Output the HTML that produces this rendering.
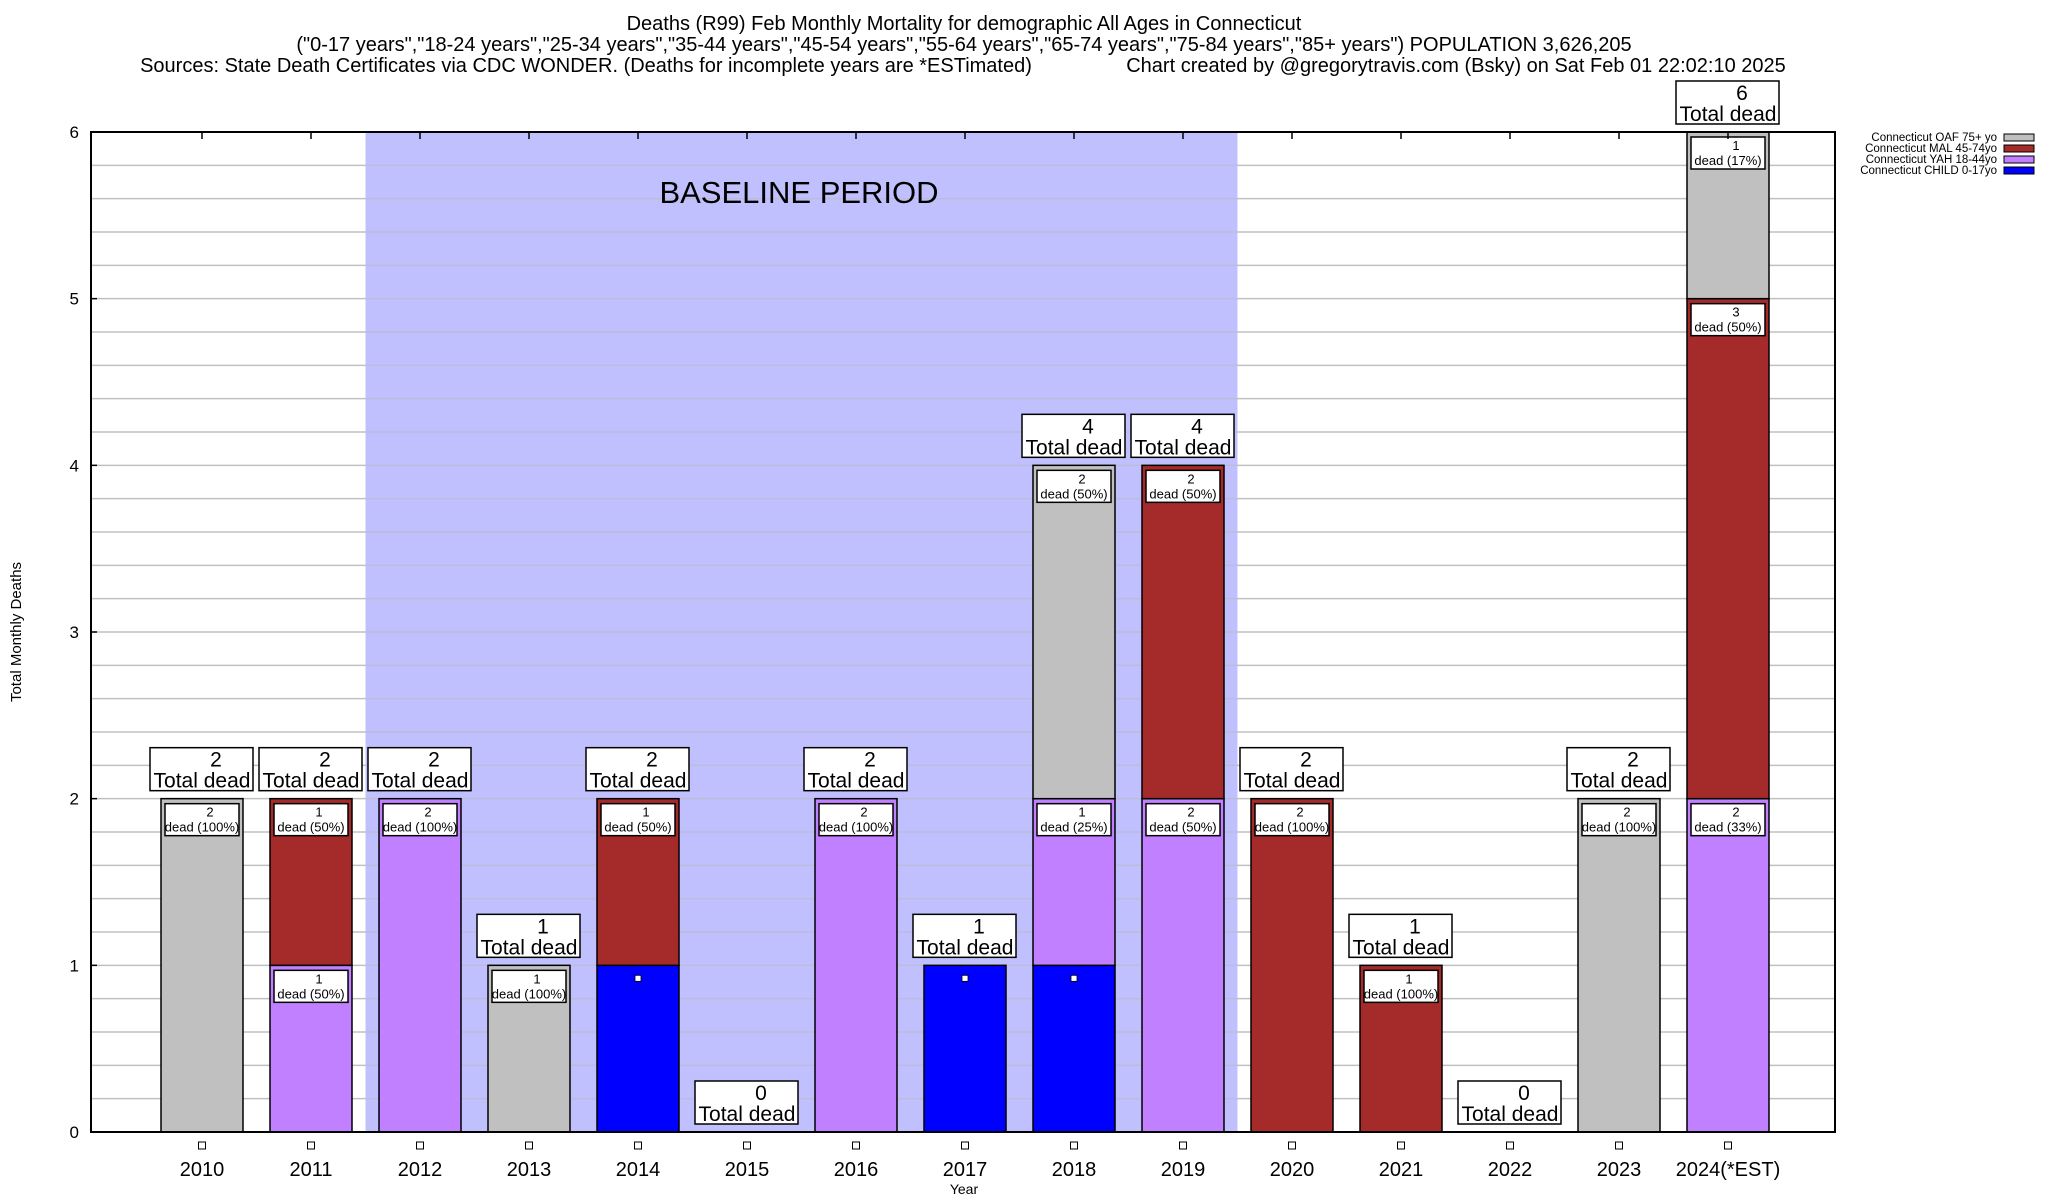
<!DOCTYPE html>
<html><head><meta charset="utf-8"><style>
body{margin:0;background:#fff}
svg{display:block;font-family:"Liberation Sans",Arial,sans-serif}
</style></head><body>
<svg id="chart" width="2048" height="1200" viewBox="0 0 2048 1200">
<g text-anchor="middle" font-size="20">
<text x="964" y="30">Deaths (R99) Feb Monthly Mortality for demographic All Ages in Connecticut</text>
<text x="964" y="51">("0-17 years","18-24 years","25-34 years","35-44 years","45-54 years","55-64 years","65-74 years","75-84 years","85+ years") POPULATION 3,626,205</text>
<text x="586" y="72">Sources: State Death Certificates via CDC WONDER. (Deaths for incomplete years are *ESTimated)</text>
<text x="1456" y="72">Chart created by @gregorytravis.com (Bsky) on Sat Feb 01 22:02:10 2025</text>
</g>
<rect x="91" y="132" width="1744" height="1000" fill="#fff"/>
<g id="grid"></g>
<rect id="baseline" fill="#c0c0ff"/>
<g id="grid2"></g>
<text x="799" y="203" font-size="31" text-anchor="middle">BASELINE PERIOD</text>
<g id="bars"></g>
<g id="axes"></g>
<text x="964" y="1194" font-size="14" text-anchor="middle">Year</text>
<text transform="translate(21,632) rotate(-90)" font-size="15" text-anchor="middle">Total Monthly Deaths</text>
<g id="legend" font-size="11.5" text-anchor="end"></g>
</svg>
<script>
const years=["2010","2011","2012","2013","2014","2015","2016","2017","2018","2019","2020","2021","2022","2023","2024(*EST)"];
const child=[0,0,0,0,1,0,0,1,1,0,0,0,0,0,0];
const yah=[0,1,2,0,0,0,2,0,1,2,0,0,0,0,2];
const mal=[0,1,0,0,1,0,0,0,0,2,2,1,0,0,3];
const oaf=[2,0,0,1,0,0,0,0,2,0,0,0,0,2,1];
const yTicks=[0,1,2,3,4,5,6];
const seriesNames=["Connecticut OAF 75+ yo","Connecticut MAL 45-74yo","Connecticut YAH 18-44yo","Connecticut CHILD 0-17yo"];
const colors={child:"#0000ff",yah:"#c080ff",mal:"#a52a2a",oaf:"#c0c0c0"};
const L=91,R=1835,T=132,B=1132,yMax=6;
const NS="http://www.w3.org/2000/svg";
const step=(R-L)/(years.length+1);
function xc(i){return L+step*(i+1)+2;}
function y(v){return B-(v/yMax)*(B-T);}
function mk(tag,attrs,parent,txt){const e=document.createElementNS(NS,tag);for(const k in attrs)e.setAttribute(k,attrs[k]);if(txt!==undefined)e.textContent=txt;parent.appendChild(e);return e;}
const grid=document.getElementById('grid'),grid2=document.getElementById('grid2');
for(let v=0;v<=yMax+1e-9;v+=0.2){
  const l=mk('line',{x1:L,x2:R,y1:y(v),y2:y(v),stroke:'#c0c0c0','stroke-width':1.5},grid);
  
  
}
const bl=document.getElementById('baseline');
bl.setAttribute('x',xc(1)+step/2);bl.setAttribute('y',T);bl.setAttribute('width',step*8);bl.setAttribute('height',B-T);
for(let v=0;v<=yMax+1e-9;v+=0.2){
  const l=mk('line',{x1:xc(1)+step/2,x2:xc(9)+step/2,y1:y(v),y2:y(v),stroke:'#b8b8b0','stroke-width':1.2,opacity:0.6},grid2);
  
  
}
const bars=document.getElementById('bars');
const bw=82;
years.forEach((yr,i)=>{
  const total=child[i]+yah[i]+mal[i]+oaf[i];
  const segs=[["child",child[i]],["yah",yah[i]],["mal",mal[i]],["oaf",oaf[i]]];
  let base=0;
  const g=mk('g',{},bars);
  
  
  segs.forEach(([k,v])=>{
    if(!v)return;
    const r=mk('rect',{x:xc(i)-bw/2,y:y(base+v),width:bw,height:y(base)-y(base+v),fill:colors[k],stroke:'#000','stroke-width':1.5},g);
    
    
    const top=y(base+v);
    if(k==='child'){
      const d=mk('rect',{x:xc(i)-3,y:top+10,width:6,height:6,fill:'#fff',stroke:'#000','stroke-width':0.8},g);
      
      
    }else{
      const lg=mk('g',{},g);
      
      
      mk('rect',{x:xc(i)-37,y:top+5,width:74,height:32,fill:'#fff',stroke:'#000','stroke-width':1.5},lg);
      mk('text',{x:xc(i)+8,y:top+18,'font-size':13,'text-anchor':'middle'},lg,String(v));
      mk('text',{x:xc(i),y:top+33,'font-size':13,'text-anchor':'middle'},lg,'dead ('+Math.round(v/total*100)+'%)');
    }
    base+=v;
  });
  const tb=mk('g',{},bars);
  
  
  const ty=y(total)-8;
  mk('rect',{x:xc(i)-52,y:ty-43,width:103,height:43,fill:'#fff',stroke:'#000','stroke-width':1.5},tb);
  mk('text',{x:xc(i)+14,y:ty-24,'font-size':21,'text-anchor':'middle'},tb,String(total));
  mk('text',{x:xc(i),y:ty-3,'font-size':21,'text-anchor':'middle'},tb,'Total dead');
});
const ax=document.getElementById('axes');
const fr=mk('rect',{x:L,y:T,width:R-L,height:B-T,fill:'none',stroke:'#000','stroke-width':2},ax);


yTicks.forEach(v=>{
  mk('line',{x1:L,x2:L+6,y1:y(v),y2:y(v),stroke:'#000','stroke-width':1.5},ax);
  const t=mk('text',{x:L-12,y:y(v)+6,'font-size':17,'text-anchor':'end'},ax,String(v));
  
  
});
years.forEach((yr,i)=>{
  mk('line',{x1:xc(i),x2:xc(i),y1:T,y2:T+7,stroke:'#000','stroke-width':1.5},ax);
  mk('rect',{x:xc(i)-3.5,y:1142,width:7,height:7,fill:'#fff',stroke:'#000','stroke-width':1},ax);
  const t=mk('text',{x:xc(i),y:1176,'font-size':20,'text-anchor':'middle'},ax,yr);
  
  
});
const lgd=document.getElementById('legend');
const lc=[colors.oaf,colors.mal,colors.yah,colors.child];
seriesNames.forEach((n,j)=>{
  const g=mk('g',{},lgd);
  
  
  const yy=137+j*11;
  mk('text',{x:1997,y:yy+4},g,n);
  mk('rect',{x:2004,y:yy-3,width:30,height:7,fill:lc[j],stroke:'#000','stroke-width':1},g);
});
</script>
</body></html>
